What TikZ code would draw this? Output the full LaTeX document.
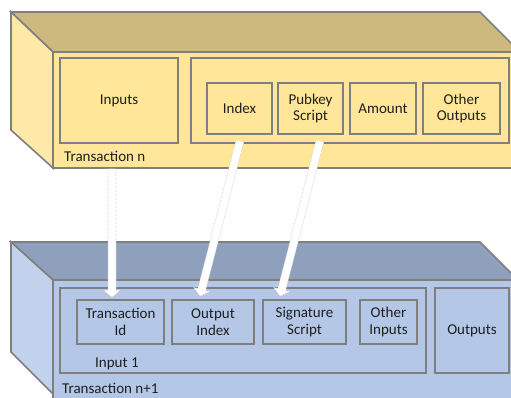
\documentclass[tikz,border=0pt]{standalone}
\usepackage{fontspec}
\setmainfont{Carlito}
\usetikzlibrary{calc}
\definecolor{yfront}{HTML}{FFE699}
\definecolor{ytop}{HTML}{CDB97D}
\definecolor{yside}{HTML}{FFE9A8}
\definecolor{bfront}{HTML}{B4C7E7}
\definecolor{btop}{HTML}{8FA0BC}
\definecolor{bside}{HTML}{C3D2EC}
\definecolor{bordergray}{HTML}{7F7F7F}
\definecolor{txt}{HTML}{1F1F1F}
\newcommand\fatarrow[2]{%
  \path ($(#2)!7pt!(#1)$) coordinate (hh);
  \draw[arrowshape] ($(#1)!4pt!90:(#2)$) -- ($(hh)!4pt!90:(#2)$) -- ($(hh)!8.5pt!90:(#2)$) -- (#2)
    -- ($(hh)!8.5pt!-90:(#2)$) -- ($(hh)!4pt!-90:(#2)$) -- ($(#1)!4pt!-90:(#2)$) -- cycle;}
\begin{document}
\begin{tikzpicture}[x=1pt,y=-1pt,
  face/.style={draw=bordergray, line width=1.6pt},
  box/.style={draw=bordergray, line width=1.6pt, inner sep=0pt, align=center, text=txt,
    font=\fontsize{15}{16.5}\selectfont},
  lbl/.style={inner sep=0pt, text=txt, font=\fontsize{15}{16.5}\selectfont, anchor=base west},
  arrowshape/.style={fill=white, draw=gray!45, line width=0.6pt, densely dotted}]
\useasboundingbox (0,0) rectangle (511,397);
\clip (0,0) rectangle (511,397);
% top block (Transaction n)
\draw[face, fill=ytop] (11,12) -- (480,12) -- (520,52) -- (53,52) -- cycle;
\draw[face, fill=yside] (11,12) -- (53,52) -- (53,168) -- (11,130) -- cycle;
\draw[face, fill=yfront] (53,52) rectangle (530,168);
\node[box, minimum width=118pt, minimum height=85pt] (inputs) at (119,100.5) {Inputs};
\node[box, minimum width=318pt, minimum height=85pt] (outs) at (350,100.5) {};
\node[box, minimum width=65pt, minimum height=51pt] (index) at (239.5,108.5) {Index};
\node[box, minimum width=65pt, minimum height=51pt] (pubkey) at (310.5,108.5) {Pubkey\\Script};
\node[box, minimum width=66pt, minimum height=51pt] (amount) at (383,108.5) {Amount};
\node[box, minimum width=77pt, minimum height=51pt] (otherout) at (461.5,108.5) {Other\\Outputs};
\node[lbl] (trn) at (64,161) {Transaction n};
% bottom block (Transaction n+1)
\draw[face, fill=btop] (11,242) -- (480,242) -- (518,280) -- (53,280) -- cycle;
\draw[face, fill=bside] (11,242) -- (53,280) -- (53,394) -- (11,352) -- cycle;
\draw[face, fill=bfront] (53,280) rectangle (530,420);
\node[box, minimum width=366pt, minimum height=85pt] (input1) at (243,330.5) {};
\node[box, minimum width=87pt, minimum height=44pt] (tid) at (120.5,322) {Transaction\\Id};
\node[box, minimum width=82pt, minimum height=44pt] (outidx) at (213,322) {Output\\Index};
\node[box, minimum width=83pt, minimum height=44pt] (sig) at (304.5,322) {Signature\\Script};
\node[box, minimum width=57pt, minimum height=44pt] (otherin) at (388.5,322) {Other\\Inputs};
\node[box, minimum width=74pt, minimum height=85pt] (outputs) at (472,330.5) {Outputs};
\node[lbl] (in1) at (95,367) {Input 1};
\node[lbl] (trn1) at (62,393) {Transaction n+1};
% arrows
\path (inputs.south) ++(-7,25) coordinate (a1s);
\path (tid.north) ++(-8.5,-2) coordinate (a1e);
\path (index.south) ++(0.5,6) coordinate (a2s);
\path (outidx.north) ++(-13,-3) coordinate (a2e);
\path (pubkey.south) ++(9.5,6) coordinate (a3s);
\path (sig.north) ++(-24.5,-3) coordinate (a3e);
\fatarrow{a1s}{a1e}
\fatarrow{a2s}{a2e}
\fatarrow{a3s}{a3e}
\end{tikzpicture}
\end{document}
